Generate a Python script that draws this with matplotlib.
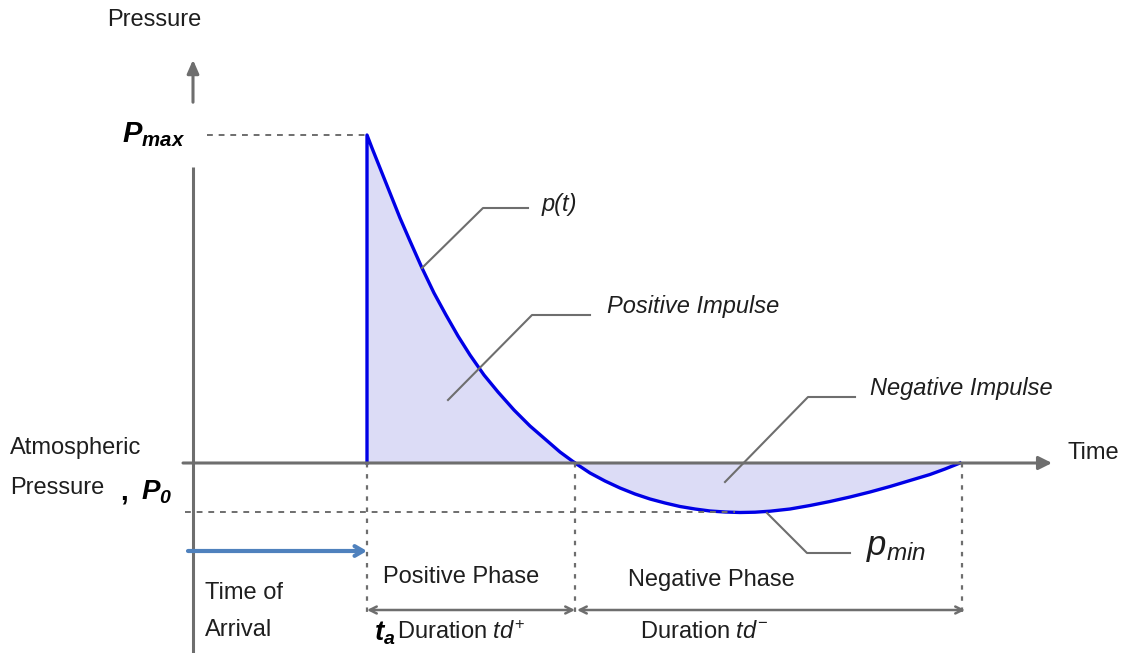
import matplotlib
matplotlib.use("Agg")
from matplotlib import pyplot as plt

plt.rcParams['font.family'] = ['Liberation Sans', 'DejaVu Sans']
plt.rcParams['mathtext.fontset'] = 'custom'
plt.rcParams['mathtext.rm'] = 'Liberation Sans'
plt.rcParams['mathtext.it'] = 'Liberation Sans:italic'
plt.rcParams['mathtext.bf'] = 'Liberation Sans:bold'
plt.rcParams['mathtext.bfit'] = 'Liberation Sans:bold:italic'

# schematic blast wave (time / overpressure in diagram units)
t_pos = [367, 372, 380, 390, 400, 410, 422, 434, 446, 458, 470, 484, 498, 514,
         530, 545, 560, 575]
p_pos = [328, 315, 295, 270, 245, 222, 195, 170, 148, 127, 108, 88, 71, 53,
         37, 24, 11, 0]
t_neg = [575, 590, 605, 620, 635, 650, 665, 680, 695, 710, 725, 740, 755, 770,
         790, 810, 830, 850, 870, 890, 910, 930, 945, 960]
p_neg = [0, -10, -18, -25, -31, -36, -40, -43.5, -46, -48, -49, -49.5, -49.2, -48.2,
         -46, -42.5, -38.5, -34, -29, -23.5, -17.5, -11.5, -6, 0]

t_arrival = 367
t_zero = 575
t_end = 962
p_max = 328
p_min = -49

gray = '#6e6e6e'
blue = '#0000e6'
fill = '#dcdcf6'
txt = '#1e1e1e'

fig = plt.figure(figsize=(11.27, 6.53), dpi=100)
ax = fig.add_axes([0, 0, 1, 1])
ax.set_xlim(0, 1127)
ax.set_ylim(-190, 463)
ax.axis('off')

# axes of the diagram
ax.plot([193, 193], [-190, 296], color=gray, lw=2.2, solid_capstyle='butt')
ax.annotate('', xy=(193, 406), xytext=(193, 358),
            arrowprops=dict(arrowstyle='-|>,head_length=0.8,head_width=0.35', color=gray, lw=2.2))
ax.annotate('', xy=(1052, 0), xytext=(183, 0),
            arrowprops=dict(arrowstyle='-|>,head_length=0.8,head_width=0.4', color=gray, lw=2.2,
                            shrinkA=0, shrinkB=0))

# filled impulses and p(t)
ax.fill_between(t_pos, p_pos, 0, color=fill, lw=0)
ax.fill_between(t_neg, p_neg, 0, color=fill, lw=0)
ax.plot([t_arrival] + t_pos, [0] + p_pos, color=blue, lw=2.4, solid_joinstyle='round')
ax.plot(t_neg, p_neg, color=blue, lw=2.4, solid_joinstyle='round')

# reference lines
ax.plot([207, t_arrival - 2], [p_max, p_max], color=gray, lw=1.4, ls=(0, (3, 3)))
ax.plot([185, 735], [p_min, p_min], color=gray, lw=1.4, ls=(0, (3, 3)))
for tx in [t_arrival, t_zero, t_end]:
    ax.plot([tx, tx], [0, -150], color=gray, lw=1.6, ls=(0, (2, 3)))

# duration arrows
ax.annotate('', xy=(t_arrival, -147), xytext=(t_zero, -147),
            arrowprops=dict(arrowstyle='<->,head_length=0.5,head_width=0.25', color=gray, lw=1.8,
                            shrinkA=0, shrinkB=0))
ax.annotate('', xy=(t_zero + 2, -147), xytext=(t_end + 3, -147),
            arrowprops=dict(arrowstyle='<->,head_length=0.5,head_width=0.25', color=gray, lw=1.8,
                            shrinkA=0, shrinkB=0))

# time of arrival arrow
ax.annotate('', xy=(t_arrival, -88), xytext=(188, -88),
            arrowprops=dict(arrowstyle='->,head_length=0.6,head_width=0.35', color='#4f81bd', lw=3,
                            shrinkA=0, shrinkB=0))

# leader lines
leaders = [([422, 483, 528], [195, 255, 255]),
           ([448, 532, 590], [63, 148, 148]),
           ([725, 808, 855], [-19, 66, 66]),
           ([767, 807, 850], [-50, -90, -90])]
for lx, ly in leaders:
    ax.plot(lx, ly, color=gray, lw=1.5)

fs = 17
ax.text(107, 443, 'Pressure', fontsize=fs, va='center', color=txt)
ax.text(122, p_max, r'$\mathbfit{P}_{\mathbfit{max}}$', fontsize=21, va='center')
ax.text(10, 15, 'Atmospheric', fontsize=fs, va='center', color=txt)
ax.text(10, -25, 'Pressure', fontsize=fs, va='center', color=txt)
ax.text(120, -29, r',', fontsize=20, fontweight='bold', va='center')
ax.text(141, -29, r'$\mathbfit{P}_{\mathbfit{0}}$', fontsize=20, va='center')
ax.text(1068, 10, 'Time', fontsize=fs, va='center', color=txt)
ax.text(542, 258, 'p(t)', fontsize=fs, style='italic', va='center', color=txt)
ax.text(607, 156, 'Positive Impulse', fontsize=fs, style='italic', va='center', color=txt)
ax.text(870, 75, 'Negative Impulse', fontsize=fs, style='italic', va='center', color=txt)
ax.text(866, -85, r'$p_{min}$', fontsize=25, va='center', color=txt)
ax.text(205, -130, 'Time of', fontsize=fs, va='center', color=txt)
ax.text(205, -167, 'Arrival', fontsize=fs, va='center', color=txt)
ax.text(383, -114, 'Positive Phase', fontsize=fs, va='center', color=txt)
ax.text(628, -117, 'Negative Phase', fontsize=fs, va='center', color=txt)
ax.text(374, -170, r'$\mathbfit{t}_{\mathbfit{a}}$', fontsize=20, va='center')
ax.text(397, -170, r'Duration $td^{+}$', fontsize=fs, va='center', color=txt)
ax.text(640, -169, r'Duration $td^{-}$', fontsize=fs, va='center', color=txt)

plt.savefig('out.png', dpi=100)
